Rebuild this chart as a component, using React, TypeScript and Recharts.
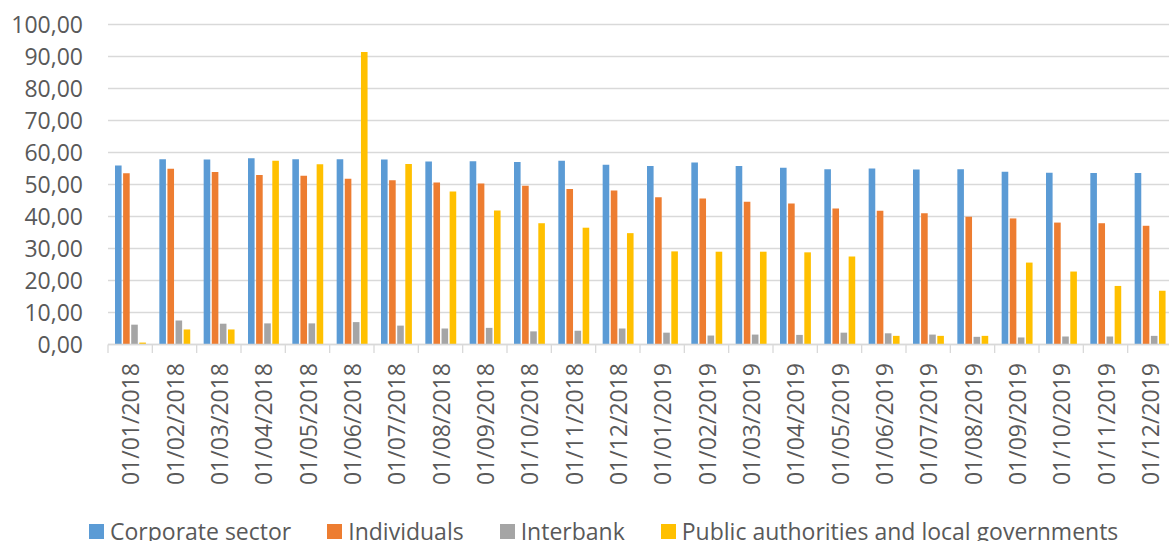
import { BarChart, Bar, XAxis, YAxis, CartesianGrid, Legend } from 'recharts';

const dates = [
  '01/01/2018', '01/02/2018', '01/03/2018', '01/04/2018', '01/05/2018', '01/06/2018',
  '01/07/2018', '01/08/2018', '01/09/2018', '01/10/2018', '01/11/2018', '01/12/2018',
  '01/01/2019', '01/02/2019', '01/03/2019', '01/04/2019', '01/05/2019', '01/06/2019',
  '01/07/2019', '01/08/2019', '01/09/2019', '01/10/2019', '01/11/2019', '01/12/2019',
];

const corporate = [
  55.9, 57.9, 57.8, 58.2, 57.9, 57.9, 57.8, 57.2, 57.3, 57.0, 57.4, 56.2,
  55.8, 56.9, 55.8, 55.2, 54.8, 55.0, 54.7, 54.8, 54.0, 53.7, 53.6, 53.6,
];
const individuals = [
  53.5, 54.9, 53.9, 53.0, 52.7, 51.8, 51.3, 50.6, 50.3, 49.6, 48.6, 48.1,
  46.0, 45.6, 44.6, 44.1, 42.5, 41.8, 41.0, 39.9, 39.4, 38.1, 37.9, 37.1,
];
const interbank = [
  6.2, 7.5, 6.5, 6.6, 6.6, 7.0, 5.9, 5.0, 5.2, 4.1, 4.3, 5.0,
  3.7, 2.8, 3.1, 3.0, 3.7, 3.5, 3.1, 2.4, 2.2, 2.5, 2.5, 2.7,
];
const publicAuth = [
  0.6, 4.7, 4.7, 57.4, 56.3, 91.4, 56.4, 47.8, 41.9, 37.9, 36.5, 34.8,
  29.1, 29.0, 29.0, 28.8, 27.5, 2.7, 2.7, 2.7, 25.6, 22.8, 18.3, 16.8,
];

const yTicks = [0, 10, 20, 30, 40, 50, 60, 70, 80, 90, 100];

const series = [
  { key: 'corporate', name: 'Corporate sector', color: '#5B9BD5' },
  { key: 'individuals', name: 'Individuals', color: '#ED7D31' },
  { key: 'interbank', name: 'Interbank', color: '#A5A5A5' },
  { key: 'publicAuth', name: 'Public authorities and local governments', color: '#FFC000' },
];

const data = dates.map((date, i) => ({
  date,
  corporate: corporate[i],
  individuals: individuals[i],
  interbank: interbank[i],
  publicAuth: publicAuth[i],
}));

const CHART_W = 1172;
const CHART_H = 541;
const Y_AXIS_W = 108;
const BAND = (CHART_W - Y_AXIS_W) / dates.length;
const FONT = '"Open Sans", "Noto Sans", sans-serif';
const TEXT = '#595959';
const GRID = '#D9D9D9';

function DateTick(props: any) {
  const { x, y, payload, index } = props;
  const last = index === dates.length - 1;
  return (
    <g>
      <line x1={x - BAND / 2} x2={x - BAND / 2} y1={y} y2={y + 8.5} stroke={GRID} strokeWidth={1.3} />
      {last && (
        <line x1={x + BAND / 2} x2={x + BAND / 2} y1={y} y2={y + 8.5} stroke={GRID} strokeWidth={1.3} />
      )}
      <text
        transform={`translate(${x + 1},${y + 18.5}) rotate(-90)`}
        textAnchor="end"
        dy="0.35em"
        fill={TEXT}
        fontSize={23}
        fontFamily={FONT}
      >
        {payload.value}
      </text>
    </g>
  );
}

function LegendContent() {
  return (
    <div style={{ display: 'flex', alignItems: 'center', fontFamily: FONT, fontSize: 23, color: TEXT, whiteSpace: 'nowrap' }}>
      {series.map((s) => (
        <div key={s.key} style={{ display: 'flex', alignItems: 'center', marginRight: 36 }}>
          <span style={{ display: 'inline-block', width: 15, height: 15, background: s.color, marginRight: 6 }} />
          <span>{s.name}</span>
        </div>
      ))}
    </div>
  );
}

export default function App() {
  return (
    <div style={{ position: 'absolute', left: 0, top: 0, width: 1169, height: CHART_H, overflow: 'hidden', background: '#fff' }}>
      <BarChart
        width={CHART_W}
        height={CHART_H}
        data={data}
        margin={{ top: 24.5, right: 0, left: 0, bottom: 0 }}
        barSize={6.6}
        barGap={1.5}
      >
        <CartesianGrid vertical={false} stroke={GRID} strokeWidth={1.3} />
        <XAxis
          dataKey="date"
          interval={0}
          height={CHART_H - 24.5 - 320}
          tickLine={false}
          tickSize={0}
          tickMargin={0}
          axisLine={{ stroke: GRID, strokeWidth: 1.3 }}
          tick={<DateTick />}
        />
        <YAxis
          width={Y_AXIS_W}
          domain={[0, 100]}
          ticks={yTicks}
          interval={0}
          axisLine={false}
          tickLine={false}
          tickMargin={19}
          tickFormatter={(v: number) => v.toFixed(2).replace('.', ',')}
          tick={{ fill: TEXT, fontSize: 23, fontFamily: FONT }}
        />
        <Legend
          layout="horizontal"
          verticalAlign="middle"
          align="center"
          content={<LegendContent />}
          wrapperStyle={{ left: 89, top: 515, width: 1100, height: 30 }}
        />
        {series.map((s) => (
          <Bar key={s.key} dataKey={s.key} name={s.name} fill={s.color} isAnimationActive={false} />
        ))}
      </BarChart>
    </div>
  );
}
